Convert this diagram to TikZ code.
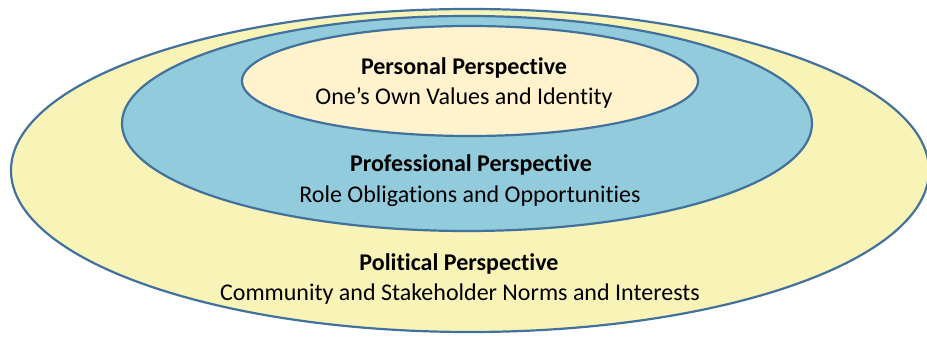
\documentclass[tikz,border=0pt]{standalone}
\usepackage{fontspec}
\setmainfont[Ligatures=NoCommon]{Carlito}
\definecolor{edge}{RGB}{65,113,156}
\definecolor{outerfill}{RGB}{248,243,182}
\definecolor{midfill}{RGB}{146,204,220}
\definecolor{innerfill}{RGB}{255,242,204}
\tikzset{
  ring/.style={draw=edge, line width=2.2pt},
  lbl/.style={anchor=base, inner sep=0pt, font=\fontsize{24}{28}\selectfont},
  title/.style={lbl, font=\fontsize{24}{28}\selectfont\bfseries}
}
\begin{document}
\begin{tikzpicture}[x=1pt,y=-1pt]
\useasboundingbox (0,0) rectangle (927,339);
\begin{scope}
\clip (0,0) rectangle (927,339);
\draw[ring, fill=outerfill] (470,170.5) ellipse [x radius=459, y radius=161.5];
\draw[ring, fill=midfill] (467,123.5) ellipse [x radius=345, y radius=107.5];
\draw[ring, fill=innerfill] (470,81) ellipse [x radius=228, y radius=55];
\end{scope}
\node[title] (t1) at (464,75) {Personal Perspective};
\node[lbl] (s1) at (464,105) {One’s Own Values and Identity};
\node[title] (t2) at (471,172) {Professional Perspective};
\node[lbl] (s2) at (470,203) {Role Obligations and Opportunities};
\node[title] (t3) at (459,271) {Political Perspective};
\node[lbl] (s3) at (460,301) {Community and Stakeholder Norms and Interests};
\end{tikzpicture}
\end{document}
